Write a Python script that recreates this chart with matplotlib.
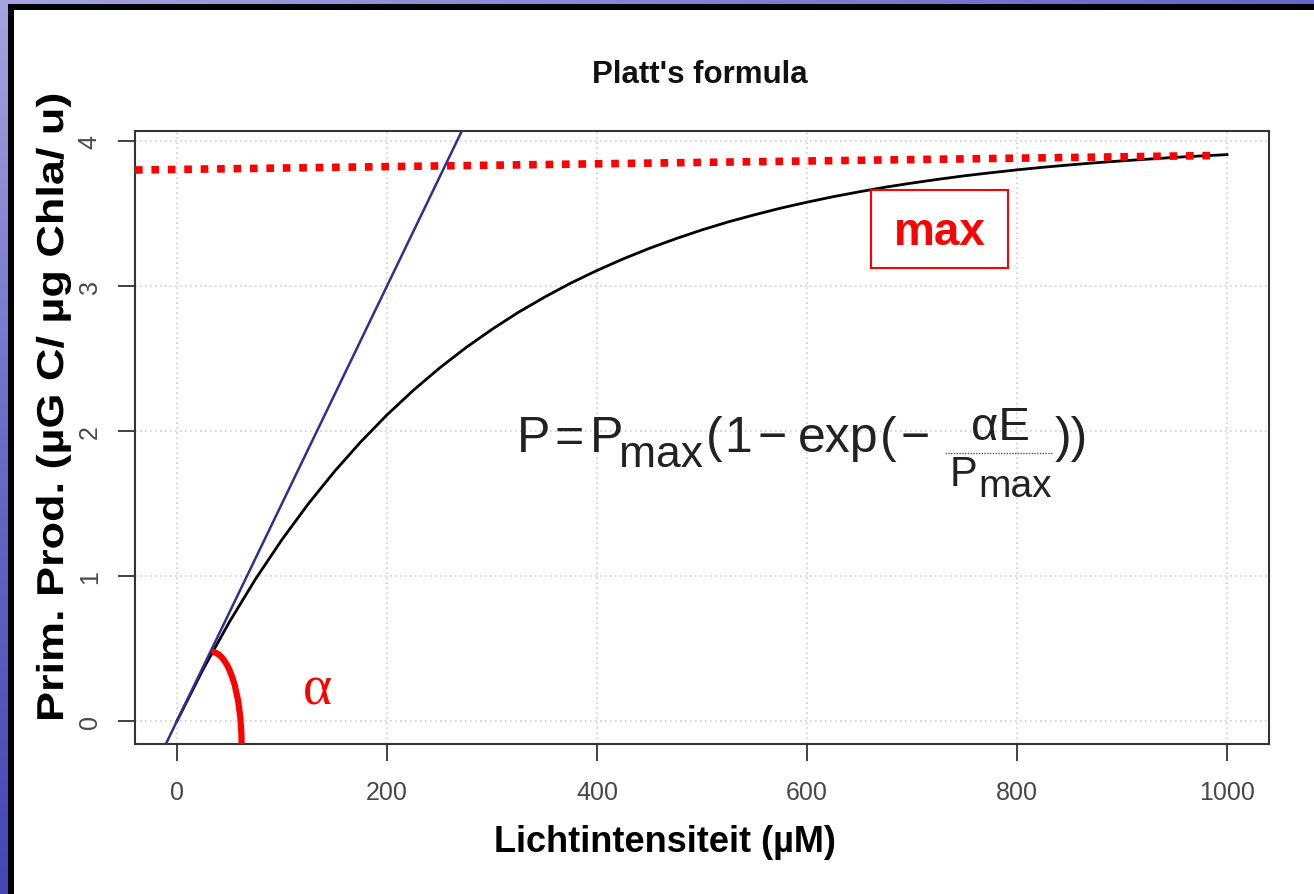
import numpy as np
import matplotlib
matplotlib.use("Agg")
import matplotlib.pyplot as plt
from matplotlib.patches import Rectangle, Arc, PathPatch
from matplotlib.textpath import TextPath
from matplotlib.font_manager import FontProperties
from matplotlib.transforms import Affine2D, IdentityTransform

plt.rcParams['font.family'] = ['Liberation Sans', 'DejaVu Sans']

# light intensity (E) and production (P) along the Platt curve
light = [0, 25, 50, 75, 100, 125, 150, 175, 200, 225, 250, 275, 300, 325, 350,
         375, 400, 425, 450, 475, 500, 525, 550, 575, 600, 625, 650, 675, 700,
         725, 750, 775, 800, 825, 850, 875, 900, 925, 950, 975, 1000]
prod = [0.000, 0.358, 0.684, 0.981, 1.251, 1.497, 1.721, 1.925, 2.111, 2.280,
        2.434, 2.574, 2.701, 2.818, 2.923, 3.020, 3.107, 3.187, 3.260, 3.326,
        3.387, 3.442, 3.491, 3.537, 3.578, 3.616, 3.650, 3.682, 3.710, 3.736,
        3.760, 3.781, 3.801, 3.819, 3.835, 3.850, 3.863, 3.875, 3.887, 3.897,
        3.906]

# initial slope (alpha) of the curve
alpha_slope = 0.015

# hand-drawn Pmax marker line
max_x = [-40, 990]
max_y = [3.80, 3.90]

x_ticks = [0, 200, 400, 600, 800, 1000]
y_ticks = [0, 1, 2, 3, 4]

W, H = 1314, 895
fig = plt.figure(figsize=(W / 100, H / 100), dpi=100)

# slide background: blue gradient, black frame, white sheet
bg = fig.add_axes([0, 0, 1, 1])
yy, xx = np.mgrid[0:1:200j, 0:1:300j]
shade = np.maximum(yy, 0.55 * xx)
cmap = matplotlib.colors.LinearSegmentedColormap.from_list(
    'slide', ['#a4a4e0', '#6a6ac8', '#4646b4'])
bg.imshow(shade, aspect='auto', cmap=cmap, extent=[0, W, H, 0])
bg.add_patch(Rectangle((8, 5), W, H, facecolor='black', edgecolor='none'))
bg.add_patch(Rectangle((14, 11), W, H, facecolor='white', edgecolor='none'))
bg.set_xlim(0, W)
bg.set_ylim(H, 0)
bg.axis('off')

ax = fig.add_axes([135 / W, 1 - 745 / H, 1134 / W, 613 / H])
ax.set_facecolor('white')
ax.set_xlim(-40, 1040)
ax.set_ylim(-0.159, 4.069)

ax.grid(True, color='#cfcfcf', linestyle=(0, (1, 2)), linewidth=1.2)
ax.set_axisbelow(True)

ax.plot(light, prod, color='black', linewidth=2.0, zorder=3,
        solid_joinstyle='round')
ax.axline((0, 0), slope=alpha_slope, color='#2e2e96', linewidth=1.8, zorder=4)
ax.plot(max_x, max_y, color='#ff0000', linewidth=5.5,
        linestyle=(0, (1, 1.15)), dash_capstyle='butt', zorder=5)

ax.add_patch(Arc((33, -0.159), 57, 1.27, theta1=0, theta2=90,
                 color='#ff0000', linewidth=4.5, clip_on=False, zorder=6))
ax.text(134, 0.22, 'α', color='#ff0000', fontsize=40,
        family=['Liberation Serif', 'DejaVu Serif'], ha='center', va='center')

ax.set_xticks(x_ticks)
ax.set_yticks(y_ticks)
ax.tick_params(axis='both', length=12, width=1.3, color='#333333',
               labelcolor='#484848', labelsize=18)
ax.tick_params(axis='x', pad=14)
ax.tick_params(axis='y', pad=12)
for lbl in ax.get_yticklabels():
    lbl.set_rotation(90)
    lbl.set_va('center')
for sp in ax.spines.values():
    sp.set_color('#333333')
    sp.set_linewidth(1.5)

fig.text(700 / W, 1 - 75 / H, "Platt's formula", fontsize=22.5,
         fontweight='bold', ha='center', va='center', color='#111111')
fig.text(665 / W, 1 - 843 / H, 'Lichtintensiteit (µM)', fontsize=26,
         fontweight='bold', ha='center', va='center')

# y label, drawn as a path so it can be stretched along its length
ylab = 'Prim. Prod. (µG C/ µg Chla/ u)'
tp = TextPath((0, 0), ylab, size=27 * 100 / 72,
              prop=FontProperties(family='Liberation Sans', weight='bold'))
ext = tp.get_extents()
stretch = 1.2
tr = (Affine2D().translate(-ext.x0, -ext.y0).scale(stretch, 1.0)
      .rotate_deg(90).translate(71, (H - 720)) + IdentityTransform())
fig.add_artist(PathPatch(tp, transform=tr, facecolor='black',
                         edgecolor='none', zorder=5))

# overlay in pixel coordinates for the formula and the max label
top = fig.add_axes([0, 0, 1, 1], zorder=10)
top.set_xlim(0, W)
top.set_ylim(H, 0)
top.axis('off')
top.patch.set_alpha(0)

ink = '#222222'


def piece(x, y, s, size, ha='left'):
    top.text(x, y, s, fontsize=size, color=ink, ha=ha, va='baseline')


piece(517, 452, 'P', 36)
piece(569, 452, '=', 36, ha='center')
piece(590, 452, 'P', 36)
piece(619, 467, 'max', 32)
piece(706, 452, '(', 36)
piece(724, 452, '1', 36)
piece(772, 452, '−', 36, ha='center')
piece(798, 452, 'exp', 36)
piece(880, 452, '(', 36)
piece(915, 452, '−', 36, ha='center')
piece(1000, 440, 'αE', 34, ha='center')
top.plot([945, 1052], [454, 454], color='#555555', linewidth=1.0,
         linestyle=(0, (1, 1)))
piece(950, 486, 'P', 30)
piece(978, 497, 'max', 28)
piece(1055, 452, '))', 36)

top.add_patch(Rectangle((871, 191), 137, 78, facecolor='white',
                        edgecolor='#ff0000', linewidth=1.5))
top.text(939.5, 233, 'max', color='#ff0000', fontsize=33, fontweight='bold',
         ha='center', va='center')

fig.savefig('out.png', dpi=100)
